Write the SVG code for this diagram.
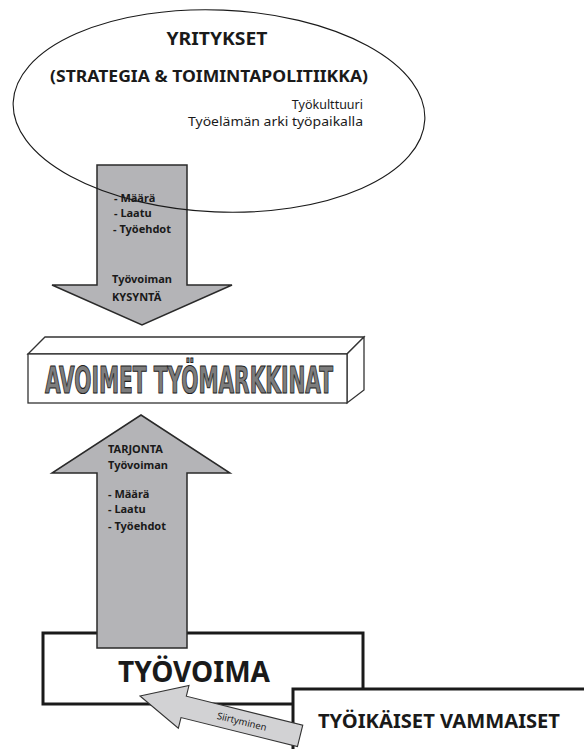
<svg xmlns="http://www.w3.org/2000/svg" width="584" height="749" viewBox="0 0 584 749">
<style>
.t{font-family:"Noto Sans","Open Sans","Liberation Sans",sans-serif;fill:#1a1a1a}
.b{font-weight:bold}
.s10{font-size:11px}
.big{font-family:"DejaVu Sans Condensed","DejaVu Sans",sans-serif;font-weight:bold;font-size:38px;fill:#7d7d7d;stroke:#222;stroke-width:1.1px}
.arrow{fill:#b4b4b7;stroke:#2a2a2a;stroke-width:1.5;stroke-linejoin:miter}
.box{fill:#fff;stroke:#1a1a1a;stroke-width:3}
.box3d{fill:#fff;stroke:#333;stroke-width:1.3;stroke-linejoin:miter}
</style>
<rect width="584" height="749" fill="#fff"/>

<g id="kysynta-arrow">
<polygon class="arrow" points="97,165 187,165 187,285 232,285 142,325 52,285 97,285"/>
<text class="t b s10" x="114" y="202">- Määrä</text>
<text class="t b s10" x="114" y="217">- Laatu</text>
<text class="t b s10" x="113" y="233">- Työehdot</text>
<text class="t b s10" x="112" y="283">Työvoiman</text>
<text class="t b s10" x="112" y="301">KYSYNTÄ</text>
</g>

<g id="yritykset">
<ellipse cx="219" cy="111" rx="206" ry="101" fill="none" stroke="#1a1a1a" stroke-width="1.1" transform="rotate(2.4 219 111)"/>
<text class="t b" x="217" y="45" font-size="18" text-anchor="middle" textLength="101" lengthAdjust="spacingAndGlyphs">YRITYKSET</text>
<text class="t b" x="209" y="82" font-size="16" text-anchor="middle" textLength="318" lengthAdjust="spacingAndGlyphs">(STRATEGIA &amp; TOIMINTAPOLITIIKKA)</text>
<text class="t" x="363" y="109" font-size="12.5" text-anchor="end">Työkulttuuri</text>
<text class="t" x="363" y="126" font-size="12.5" text-anchor="end" textLength="175" lengthAdjust="spacingAndGlyphs">Työelämän arki työpaikalla</text>
</g>

<g id="avoimet-tyomarkkinat">
<polygon class="box3d" points="28,354 45,337 364,337 347,354"/>
<polygon class="box3d" points="347,354 364,337 364,390 347,403"/>
<rect class="box3d" x="28" y="354" width="319" height="49"/>
<text class="big" x="45" y="393" textLength="288" lengthAdjust="spacingAndGlyphs">AVOIMET TYÖMARKKINAT</text>
</g>

<g id="tyovoima">
<rect class="box" x="43" y="633" width="320" height="71"/>
<text class="t b" x="118" y="682" font-size="28" textLength="152" lengthAdjust="spacingAndGlyphs">TYÖVOIMA</text>
</g>

<g id="tyoikaiset-vammaiset">
<rect class="box" x="293" y="689" width="310" height="80"/>
<text class="t b" x="318" y="728" font-size="19" textLength="242" lengthAdjust="spacingAndGlyphs">TYÖIKÄISET VAMMAISET</text>
</g>

<g id="tarjonta-arrow">
<polygon class="arrow" points="141,415 230,473 187,473 187,648 97,648 97,473 52,473"/>
<text class="t b s10" x="108" y="453">TARJONTA</text>
<text class="t b s10" x="108" y="469">Työvoiman</text>
<text class="t b s10" x="108" y="498">- Määrä</text>
<text class="t b s10" x="108" y="513">- Laatu</text>
<text class="t b s10" x="108" y="530">- Työehdot</text>
</g>

<g id="connectors">
<g transform="translate(140 696) rotate(14)">
<polygon points="0,0 45,-22 45,-11 165,-11 165,11 45,11 45,22" fill="#d2d2d4" stroke="#333" stroke-width="1.1" stroke-linejoin="miter"/>
<text class="t" x="105" y="3.5" font-size="9.5" text-anchor="middle" fill="#333">Siirtyminen</text>
</g>
</g>
</svg>
